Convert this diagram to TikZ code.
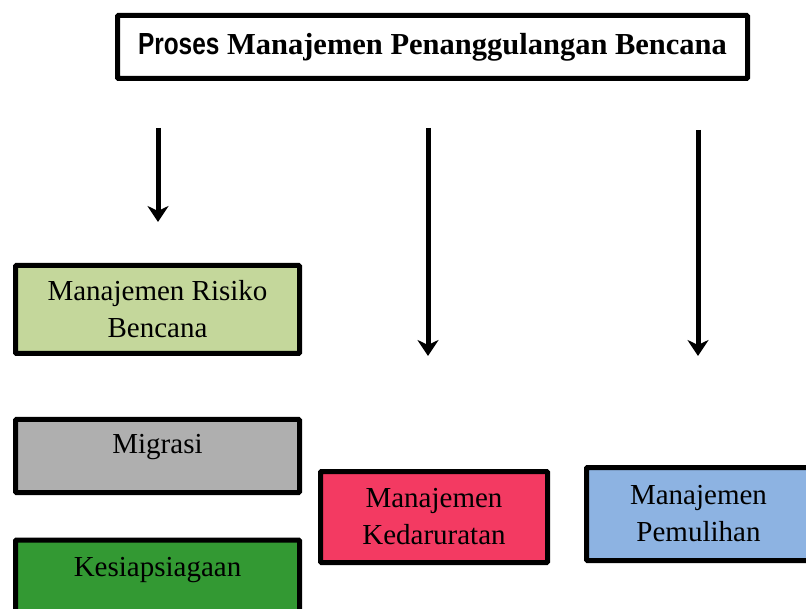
\documentclass[tikz,border=0pt]{standalone}
\usepackage{fontspec}
\setmainfont{Liberation Serif}
\newfontfamily\narrowsans[FakeStretch=0.8]{Liberation Sans}
\usetikzlibrary{arrows.meta}
\definecolor{risiko}{HTML}{C4D79B}
\definecolor{migrasi}{HTML}{AFAFAF}
\definecolor{siaga}{HTML}{339933}
\definecolor{darurat}{HTML}{F33A62}
\definecolor{pulih}{HTML}{8DB3E2}

\begin{document}
\begin{tikzpicture}[x=1pt, y=-1pt,
    box/.style={draw, line width=5pt, rounded corners=1pt, align=center, inner sep=0pt,
                font=\fontsize{29}{37}\selectfont},
    label text/.style={font=\fontsize{29}{37}\selectfont, inner sep=0pt},
    arr/.style={line width=5pt, -{Stealth[length=16pt, width=21pt, inset=5pt]}}]
    \useasboundingbox (0,0) rectangle (806,609) ;
    \clip (0,0) rectangle (806,609) ;

    \node [box, minimum width=630, minimum height=63, font=\bfseries\fontsize{30.5}{36}\selectfont] (title) at (432.5,47)
        {{\narrowsans Proses} Manajemen Penanggulangan Bencana} ;

    \node [box, fill=risiko, minimum width=284, minimum height=88] (risikobox) at (157.5,309.5)
        {Manajemen Risiko\\Bencana} ;
    \node [box, fill=migrasi, minimum width=284, minimum height=73] (migrasibox) at (157.5,456) {} ;
    \node [label text] (migrasitext) at (157.5,447) {Migrasi} ;
    \node [box, fill=siaga, minimum width=284, minimum height=120] (siagabox) at (157.5,600) {} ;
    \node [label text] (siagatext) at (157.5,570) {Kesiapsiagaan} ;
    \node [box, fill=darurat, minimum width=227, minimum height=91] (daruratbox) at (434,517)
        {Manajemen\\Kedaruratan} ;
    \node [box, fill=pulih, minimum width=224, minimum height=93] (pulihbox) at (698.5,514)
        {Manajemen\\Pemulihan} ;

    \coordinate (risikostart) at (158,128) ;
    \coordinate (risikoend) at (158,222) ;
    \coordinate (daruratstart) at (428,128) ;
    \coordinate (daruratend) at (428,356) ;
    \coordinate (pulihstart) at (698,130) ;
    \coordinate (pulihend) at (698,356) ;

    \draw [arr] (risikostart) -- (risikoend) ;
    \draw [arr] (daruratstart) -- (daruratend) ;
    \draw [arr] (pulihstart) -- (pulihend) ;
\end{tikzpicture}
\end{document}
